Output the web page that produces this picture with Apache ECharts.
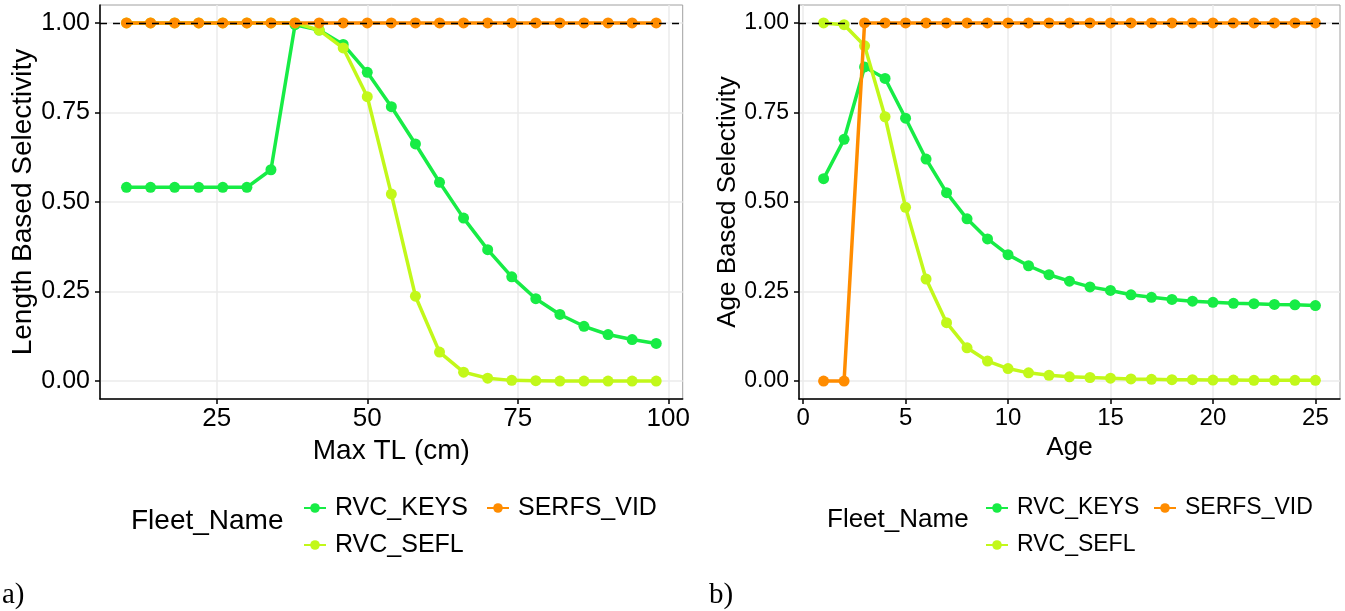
<!DOCTYPE html>
<html><head><meta charset="utf-8">
<script src="https://cdn.jsdelivr.net/npm/echarts@6/dist/echarts.min.js"></script>
<style>html,body{margin:0;padding:0;background:#fff}#c{width:1345px;height:611px}</style>
</head><body><div id="c"></div>
<script>
// ---- data ----
const fleetNames = ['RVC_KEYS', 'RVC_SEFL', 'SERFS_VID'];
const lengthBins = [10,14,18,22,26,30,34,38,42,46,50,54,58,62,66,70,74,78,82,86,90,94,98];
const lenKeys  = [0.541,0.541,0.541,0.541,0.541,0.541,0.59,0.995,0.98,0.94,0.862,0.766,0.662,0.555,0.455,0.367,0.291,0.230,0.186,0.153,0.130,0.116,0.105];
const lenSefl  = [1,1,1,1,1,1,1,1,0.98,0.93,0.794,0.522,0.237,0.081,0.025,0.008,0.002,0.001,0,0,0,0,0];
const lenSerfs = [1,1,1,1,1,1,1,1,1,1,1,1,1,1,1,1,1,1,1,1,1,1,1];
const ages = [1,2,3,4,5,6,7,8,9,10,11,12,13,14,15,16,17,18,19,20,21,22,23,24,25];
const ageKeys  = [0.565,0.675,0.877,0.845,0.734,0.620,0.526,0.453,0.397,0.353,0.322,0.297,0.279,0.263,0.253,0.241,0.234,0.228,0.223,0.220,0.217,0.216,0.214,0.213,0.211];
const ageSefl  = [1.0,0.995,0.936,0.738,0.485,0.285,0.163,0.093,0.056,0.035,0.023,0.016,0.012,0.010,0.008,0.006,0.005,0.004,0.004,0.003,0.003,0.002,0.002,0.002,0.002];
const ageSerfs = [0,0,1,1,1,1,1,1,1,1,1,1,1,1,1,1,1,1,1,1,1,1,1,1,1];
const yTicks = [0, 0.25, 0.5, 0.75, 1];
const xTicksLen = [25, 50, 75, 100];
const xTicksAge = [0, 5, 10, 15, 20, 25];
const refLine = 1;
const colors = ['#17EC45', '#C2F81A', '#FF8C00'];

// ---- chart ----
const FONT = 'Liberation Sans, Arial, sans-serif';
const chart = echarts.init(document.getElementById('c'), null, {renderer: 'canvas'});

function xAxis(grid, min, max, ticks, name, fs, tfs) {
  return {
    type: 'value', gridIndex: grid, min: min, max: max,
    name: name, nameLocation: 'middle', nameGap: 33,
    nameTextStyle: {fontSize: tfs, color: '#000', fontFamily: FONT},
    axisLine: {show: true, onZero: false, lineStyle: {color: '#000', width: 1.5}},
    axisTick: {show: true, inside: false, length: 5, customValues: ticks, lineStyle: {color: '#000', width: 1.5}},
    axisLabel: {show: true, customValues: ticks, margin: 7, fontSize: fs, color: '#000', fontFamily: FONT},
    splitLine: {show: true, lineStyle: {color: '#EBEBEB', width: 1.5}}
  };
}
function yAxis(grid, name, fs, tfs, gap) {
  return {
    type: 'value', gridIndex: grid, min: -0.05, max: 1.05,
    name: name, nameLocation: 'middle', nameRotate: 90, nameGap: gap,
    nameTextStyle: {fontSize: tfs, color: '#000', fontFamily: FONT},
    axisLine: {show: true, onZero: false, lineStyle: {color: '#000', width: 1.5}},
    axisTick: {show: true, inside: false, length: 5, customValues: yTicks, lineStyle: {color: '#000', width: 1.5}},
    axisLabel: {show: true, customValues: yTicks, margin: 10, fontSize: fs, color: '#000', fontFamily: FONT,
      formatter: v => Number(v).toFixed(2)},
    splitLine: {show: true, lineStyle: {color: '#EBEBEB', width: 1.5}}
  };
}
function lineSeries(name, xs, ys, idx, color, z) {
  return {
    name: name, type: 'line', xAxisIndex: idx, yAxisIndex: idx,
    data: xs.map((x, i) => [x, ys[i]]),
    symbol: 'circle', symbolSize: 11, showSymbol: true,
    lineStyle: {color: color, width: 3.5}, itemStyle: {color: color},
    emphasis: {disabled: true}, z: z, clip: false
  };
}
function refSeries(idx) {
  return {
    type: 'line', xAxisIndex: idx, yAxisIndex: idx, data: [], z: 20, silent: true,
    markLine: {silent: true, symbol: 'none', animation: false, label: {show: false},
      lineStyle: {color: '#000', width: 1.4, type: [7, 6]}, data: [{yAxis: refLine}]}
  };
}
function legend(left, names, fs) {
  return {
    orient: 'vertical', left: left, top: 490, itemWidth: 22, itemHeight: 12, itemGap: 11,
    selectedMode: false, data: names,
    textStyle: {fontSize: fs, color: '#000', fontFamily: FONT, lineHeight: 26, padding: [0, 0, 0, 4]}
  };
}

const option = {
  animation: false,
  backgroundColor: '#fff',
  grid: [
    {left: 100, top: 5, width: 582.7, height: 394, show: true, borderColor: '#A0A0A0', borderWidth: 1, backgroundColor: 'transparent', containLabel: false, outerBoundsMode: 'none'},
    {left: 799, top: 5, width: 541, height: 394, show: true, borderColor: '#A0A0A0', borderWidth: 1, backgroundColor: 'transparent', containLabel: false, outerBoundsMode: 'none'}
  ],
  xAxis: [
    xAxis(0, 5.6, 102.4, xTicksLen, 'Max TL (cm)', 26, 28),
    xAxis(1, -0.2, 26.2, xTicksAge, 'Age', 24, 26)
  ],
  yAxis: [
    yAxis(0, 'Length Based Selectivity', 25, 28, 62),
    yAxis(1, 'Age Based Selectivity', 23, 26, 58)
  ],
  legend: [
    legend(298, [fleetNames[0], fleetNames[1]], 25),
    legend(481, [fleetNames[2]], 25),
    legend(980, [fleetNames[0], fleetNames[1]], 23),
    legend(1148, [fleetNames[2]], 23)
  ],
  graphic: [
    {type: 'text', left: 131, top: 507, style: {text: 'Fleet_Name', fontSize: 28, fill: '#000', fontFamily: FONT}},
    {type: 'text', left: 827, top: 507, style: {text: 'Fleet_Name', fontSize: 26, fill: '#000', fontFamily: FONT}},
    {type: 'text', left: 2, top: 581, style: {text: 'a)', fontSize: 29, fill: '#000', fontFamily: 'Liberation Serif, Times New Roman, serif'}},
    {type: 'text', left: 709, top: 581, style: {text: 'b)', fontSize: 29, fill: '#000', fontFamily: 'Liberation Serif, Times New Roman, serif'}}
  ],
  series: [
    lineSeries(fleetNames[0], lengthBins, lenKeys, 0, colors[0], 2),
    lineSeries(fleetNames[1], lengthBins, lenSefl, 0, colors[1], 3),
    lineSeries(fleetNames[2], lengthBins, lenSerfs, 0, colors[2], 4),
    refSeries(0),
    lineSeries(fleetNames[0], ages, ageKeys, 1, colors[0], 2),
    lineSeries(fleetNames[1], ages, ageSefl, 1, colors[1], 3),
    lineSeries(fleetNames[2], ages, ageSerfs, 1, colors[2], 4),
    refSeries(1)
  ]
};
chart.setOption(option);
</script>
</body></html>
